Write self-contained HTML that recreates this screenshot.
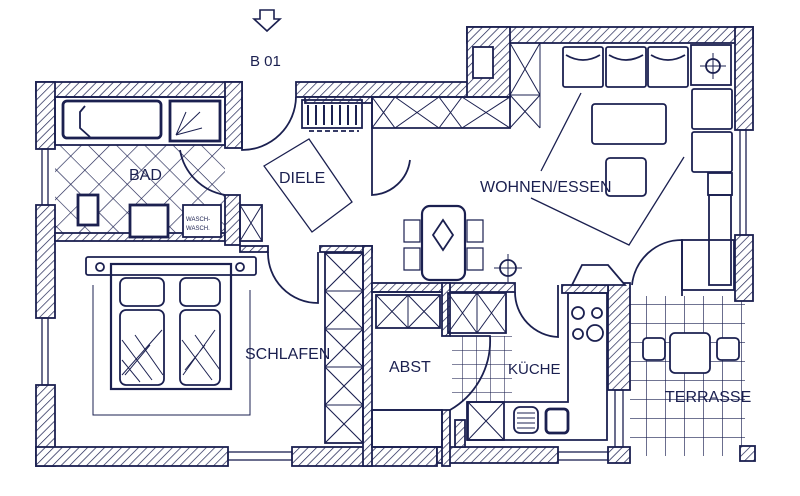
<!DOCTYPE html>
<html><head><meta charset="utf-8"><style>
html,body{margin:0;padding:0;background:#fff;}
svg{display:block;}
text{font-family:"Liberation Sans Narrow","Liberation Sans",sans-serif;fill:#1b2050;}
</style></head><body>
<svg width="800" height="496" viewBox="0 0 800 496" xmlns="http://www.w3.org/2000/svg">
<defs>
<pattern id="h" width="6" height="6" patternUnits="userSpaceOnUse" patternTransform="rotate(45)">
<rect width="6" height="6" fill="#fff"/><line x1="0" y1="0" x2="0" y2="6" stroke="#1b2050" stroke-width="1.4"/>
</pattern>
<pattern id="tile" width="20" height="20" patternUnits="userSpaceOnUse" patternTransform="rotate(45)">
<rect width="20" height="20" fill="#fff"/><line x1="0" y1="0" x2="0" y2="20" stroke="#1b2050" stroke-width="1.3"/><line x1="0" y1="0" x2="20" y2="0" stroke="#1b2050" stroke-width="1.3"/>
</pattern>
<pattern id="grid" width="19" height="19" patternUnits="userSpaceOnUse">
<rect width="19" height="19" fill="#fff"/><line x1="0" y1="0" x2="0" y2="19" stroke="#1b2050" stroke-width="1.3"/><line x1="0" y1="0" x2="19" y2="0" stroke="#1b2050" stroke-width="1.3"/>
</pattern>
<pattern id="kgrid" width="14" height="14" patternUnits="userSpaceOnUse">
<rect width="14" height="14" fill="#fff"/><line x1="0" y1="0" x2="0" y2="14" stroke="#1b2050" stroke-width="1.1"/><line x1="0" y1="0" x2="14" y2="0" stroke="#1b2050" stroke-width="1.1"/>
</pattern>
</defs>
<g stroke="#1b2050" fill="none" stroke-width="1.8">
<rect x="55" y="145" width="170" height="88" fill="url(#tile)" stroke="none"/>
<rect x="630" y="296" width="115" height="160" fill="url(#grid)" stroke="none"/>
<rect x="452" y="336" width="60" height="66" fill="url(#kgrid)" stroke="none"/>
<g fill="url(#h)">
<rect x="36" y="82" width="206" height="15"/>
<rect x="225" y="82" width="17" height="66"/>
<rect x="36" y="82" width="19" height="67"/>
<rect x="36" y="205" width="19" height="113"/>
<rect x="36" y="385" width="19" height="81"/>
<rect x="36" y="447" width="192" height="19"/>
<rect x="292" y="447" width="145" height="19"/>
<rect x="437" y="447" width="121" height="16"/>
<rect x="608" y="447" width="22" height="16"/>
<rect x="608" y="283" width="22" height="107"/>
<rect x="296" y="82" width="172" height="15"/>
<rect x="467" y="27" width="286" height="16"/>
<rect x="467" y="27" width="43" height="70"/>
<rect x="735" y="27" width="18" height="103"/>
<rect x="735" y="235" width="18" height="66"/>
<rect x="55" y="233" width="170" height="8"/>
<rect x="225" y="195" width="15" height="50"/>
<rect x="240" y="246" width="28" height="6"/>
<rect x="320" y="246" width="52" height="6"/>
<rect x="363" y="246" width="9" height="220"/>
<rect x="372" y="283" width="143" height="9"/>
<rect x="562" y="285" width="46" height="8"/>
<rect x="442" y="283" width="8" height="53"/>
<rect x="442" y="410" width="8" height="56"/>
<rect x="455" y="420" width="10" height="27"/>
<rect x="305" y="97" width="67" height="6"/>
</g>
<rect x="473" y="47" width="20" height="31" fill="#fff"/>
<g stroke-width="1.3">
<rect x="42" y="149" width="6" height="56"/><rect x="42" y="318" width="6" height="67"/>
<rect x="228" y="452" width="64" height="8"/><rect x="558" y="452" width="50" height="8"/>
<rect x="740" y="130" width="6" height="105"/><rect x="615" y="390" width="8" height="57"/>
</g>
<rect x="55" y="97" width="170" height="48"/>
<rect x="63" y="101" width="98" height="37" rx="4" stroke-width="2.8"/>
<path d="M85 106 L80 112 L80 128 L90 137" />
<rect x="170" y="101" width="50" height="40" stroke-width="2.8"/>
<path d="M176 135 L200 112 M176 135 L186 112 M176 135 L202 128" stroke-width="1"/>
<rect x="78" y="195" width="20" height="30" stroke-width="2.8" fill="#fff"/>
<rect x="130" y="205" width="38" height="32" stroke-width="2.8" fill="#fff"/>
<rect x="183" y="205" width="38" height="32" fill="#fff"/>
<path d="M180 150 A55 55 0 0 0 225 195"/>
<path d="M242 97 L242 150 A54 54 0 0 0 296 97"/>
<rect x="302" y="100" width="60" height="28"/>
<path d="M308 105v20M316 105v20M324 105v20M332 105v20M340 105v20M348 105v20M356 105v20" stroke-width="2"/>
<path d="M309 131h50" stroke-dasharray="5 3"/>
<path d="M264 166 L309 139 L352 202 L312 232 Z" stroke-width="1.3"/>
<rect x="240" y="205" width="22" height="36"/><path d="M240 205l22 36M262 205l-22 36" stroke-width="1"/>
<path d="M372 97 V195 A40 40 0 0 0 410 160"/>
<path d="M268 252 A50 50 0 0 0 318 303 V252"/>
<rect x="86" y="257" width="170" height="18" rx="2"/>
<circle cx="100" cy="267" r="4"/><circle cx="240" cy="267" r="4"/>
<rect x="111" y="264" width="120" height="125" stroke-width="2.2"/>
<rect x="120" y="278" width="44" height="28" rx="6"/><rect x="180" y="278" width="40" height="28" rx="6"/>
<rect x="120" y="310" width="44" height="75" rx="6"/><rect x="180" y="310" width="40" height="75" rx="6"/>
<path d="M122 340l30 40M122 360l18 22M135 335l28 40M162 330l-40 45M150 345l-25 30M182 340l30 40M195 335l25 35M215 330l-32 45M205 345l-20 25" stroke-width="1"/>
<path d="M93 285V415h157V290" stroke-width="1"/>
<rect x="325" y="253" width="38" height="190"/>
<path d="M325 253l38 38M363 253l-38 38M325 291l38 38M363 291l-38 38M325 329l38 38M363 329l-38 38M325 367l38 38M363 367l-38 38M325 405l38 38M363 405l-38 38M325 291h38M325 329h38M325 367h38M325 405h38" stroke-width="1.1"/>
<path d="M372 292h70M372 410h70" />
<rect x="372" y="410" width="70" height="37"/>
<rect x="376" y="295" width="64" height="33"/><path d="M376 295l32 33M408 295l-32 33M408 295l32 33M440 295l-32 33M408 295v33" stroke-width="1"/>
<path d="M450 336h40 A80 80 0 0 1 450 410"/>
<rect x="448" y="293" width="58" height="40"/><path d="M448 293l29 40M477 293l-29 40M477 293l29 40M506 293l-29 40M477 293v40" stroke-width="1"/>
<path d="M515 292 A45 45 0 0 0 558 337 V285"/>
<path d="M568 293V402H467V440H607V293Z"/>
<circle cx="578" cy="313" r="6"/><circle cx="597" cy="313" r="5"/><circle cx="578" cy="334" r="5"/><circle cx="595" cy="333" r="8"/>
<rect x="468" y="402" width="36" height="38"/><path d="M468 402l36 38M504 402l-36 38" stroke-width="1"/>
<rect x="514" y="407" width="24" height="26" rx="6"/><path d="M517 413h18M517 418h18M517 423h18M517 428h18" stroke-width="1"/>
<rect x="546" y="409" width="22" height="24" rx="4" stroke-width="2.8"/>
<path d="M572 285 L582 265 H608 L625 285 Z" fill="#fff"/>
<path d="M372 97h138v31H372Z"/>
<path d="M372 97l23 31M395 97l-23 31M395 97l44 31M439 97l-44 31M439 97l23 31M462 97l-23 31M462 97l48 31M510 97l-48 31" stroke-width="1"/>
<path d="M510 43V128M540 43V128M510 95h30M510 43l30 52M540 43l-30 52M510 95l30 33M540 95l-30 33" stroke-width="1"/>
<rect x="563" y="47" width="40" height="40" rx="2"/><rect x="606" y="47" width="40" height="40" rx="2"/><rect x="648" y="47" width="40" height="40" rx="2"/>
<path d="M566 55q17 10 34 0M609 55q17 10 34 0M651 55q17 10 34 0" />
<rect x="691" y="45" width="40" height="40"/><circle cx="713" cy="66" r="7"/><path d="M700 66h26M713 53v26" stroke-width="1"/>
<rect x="692" y="89" width="40" height="40" rx="2"/><rect x="692" y="132" width="40" height="40" rx="2"/>
<rect x="592" y="104" width="74" height="40" rx="3"/>
<rect x="606" y="158" width="40" height="38" rx="4"/>
<path d="M541 171 L581 93 M531 198 L629 245 L684 157" stroke-width="1.3"/>
<rect x="708" y="173" width="24" height="22"/><rect x="709" y="195" width="22" height="90"/>
<path d="M632 285 A50 50 0 0 1 682 240 V296" />
<rect x="682" y="240" width="52" height="50"/>
<rect x="422" y="206" width="43" height="74" rx="8" stroke-width="2.2"/>
<path d="M443 220l10 15-10 15-10-15z"/>
<path d="M404 220h16v22h-16zM404 248h16v22h-16zM467 220h16v22h-16zM467 248h16v22h-16z" stroke-width="1.2"/>
<circle cx="508" cy="268" r="8"/><path d="M494 268h28M508 254v28" stroke-width="1"/>
<rect x="643" y="338" width="22" height="22" rx="4" fill="#fff"/><rect x="670" y="333" width="40" height="40" rx="5" fill="#fff"/><rect x="717" y="338" width="22" height="22" rx="4" fill="#fff"/>
<rect x="740" y="446" width="15" height="15" fill="url(#h)"/>
</g>
<path d="M260 10h14v9h6l-13 12-13-12h6z" fill="#fff" stroke="#1b2050" stroke-width="1.6"/>
<text x="250" y="66" font-size="15">B 01</text>
<text x="129" y="180" font-size="16">BAD</text>
<text x="279" y="183" font-size="16">DIELE</text>
<text x="480" y="192" font-size="16">WOHNEN/ESSEN</text>
<text x="245" y="359" font-size="16">SCHLAFEN</text>
<text x="389" y="372" font-size="16">ABST</text>
<text x="508" y="374" font-size="15">KÜCHE</text>
<text x="665" y="402" font-size="16">TERRASSE</text>
<text x="186" y="221" font-size="6">WASCH-</text>
<text x="186" y="230" font-size="6">WASCH.</text>
</svg>
</body></html>
